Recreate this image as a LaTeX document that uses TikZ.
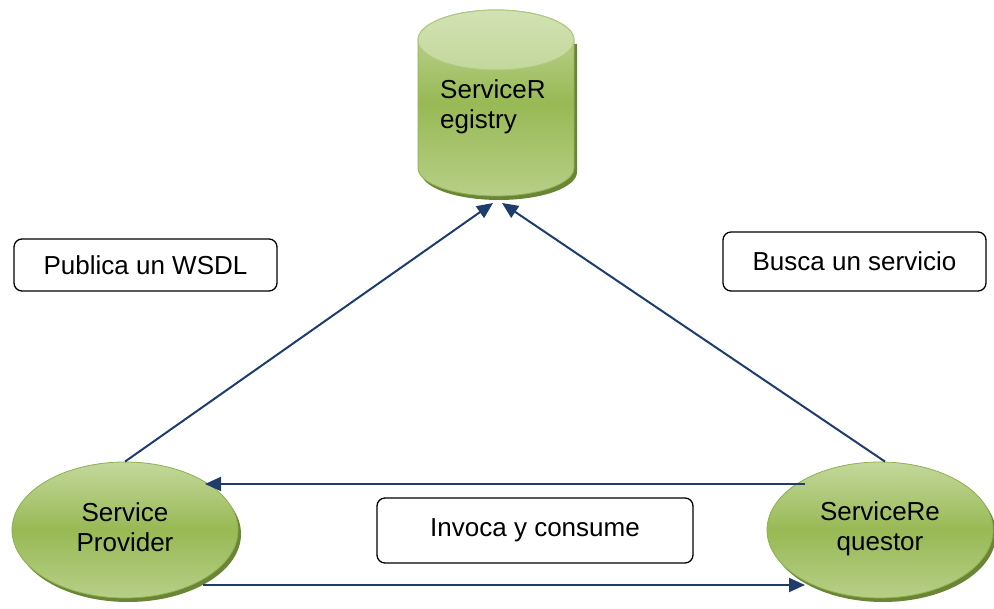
\documentclass[tikz,border=0pt]{standalone}
\usepackage{fontspec}
\setmainfont{Liberation Sans}
\usetikzlibrary{arrows.meta,shadows,calc,shapes.geometric}
\definecolor{navy}{HTML}{1F3D6B}
\definecolor{gtop}{HTML}{C3D89B}
\definecolor{gmid}{HTML}{98B955}
\definecolor{gbot}{HTML}{B7CF87}
\definecolor{gedge}{HTML}{8FB04E}
\definecolor{gshadow}{HTML}{6A8535}
\begin{document}
\begin{tikzpicture}[x=1pt,y=1pt,
  txt/.style={font=\fontsize{26}{30}\selectfont},
  labelbox/.style={draw=black, line width=1.3pt, rounded corners=8pt, fill=white, inner sep=0pt, txt},
  actor/.style={ellipse, minimum width=226pt, minimum height=136pt, top color=gtop, bottom color=gbot, middle color=gmid, draw=gedge, line width=0.8pt, drop shadow={shadow xshift=3pt, shadow yshift=-4pt, fill=gshadow, opacity=1}, txt, inner sep=0pt},
  conn/.style={navy, line width=2pt, -{Triangle[length=16pt,width=14pt]}}]
\useasboundingbox (0,0) rectangle (994,-609);

% registry cylinder
\fill[gshadow] (421,-44) -- (421,-172) arc (180:360:78pt and 28pt) -- (577,-44) -- cycle;
\shade[top color=gtop, bottom color=gbot, middle color=gmid, draw=gedge, line width=0.8pt]
  (418,-40) -- (418,-168) arc (180:360:78pt and 28pt) -- (574,-40) arc (0:180:78pt and 30pt) -- cycle;
\shade[top color=gtop!75!white, bottom color=gtop, draw=gedge!70!white, line width=1pt] (496,-40) ellipse (78pt and 30pt);
\node[txt, anchor=west, align=left, inner sep=0pt] (reg) at (440,-107) {ServiceR\\egistry};
\coordinate (regL) at (493,-203);
\coordinate (regR) at (502,-203);

% actors
\node[actor] (prov) at (125,-530) {\raisebox{7pt}{\begin{tabular}{@{}c@{}}Service\\Provider\end{tabular}}};
\node[actor] (req) at (880,-530) {\raisebox{6pt}{\begin{tabular}{@{}c@{}}ServiceRe\\questor\end{tabular}}};

% label boxes
\node[labelbox, minimum width=263pt, minimum height=52pt] (pub) at (145.5,-265) {Publica un WSDL};
\node[labelbox, minimum width=263pt, minimum height=59pt] (bus) at (854.5,-261.5) {Busca un servicio};
\node[labelbox, minimum width=316pt, minimum height=65pt] (inv) at (535,-530.5) {Invoca y consume};

% connectors
\draw[conn] (prov.north) -- (regL);
\draw[conn] ($(req.north)+(5,0)$) -- (regR);
\draw[conn] ($(req.center)+(-75,46)$) -- ($(prov.center)+(80,46)$);
\draw[conn] ($(prov.center)+(78,-55)$) -- ($(req.center)+(-75,-55)$);
\end{tikzpicture}
\end{document}
